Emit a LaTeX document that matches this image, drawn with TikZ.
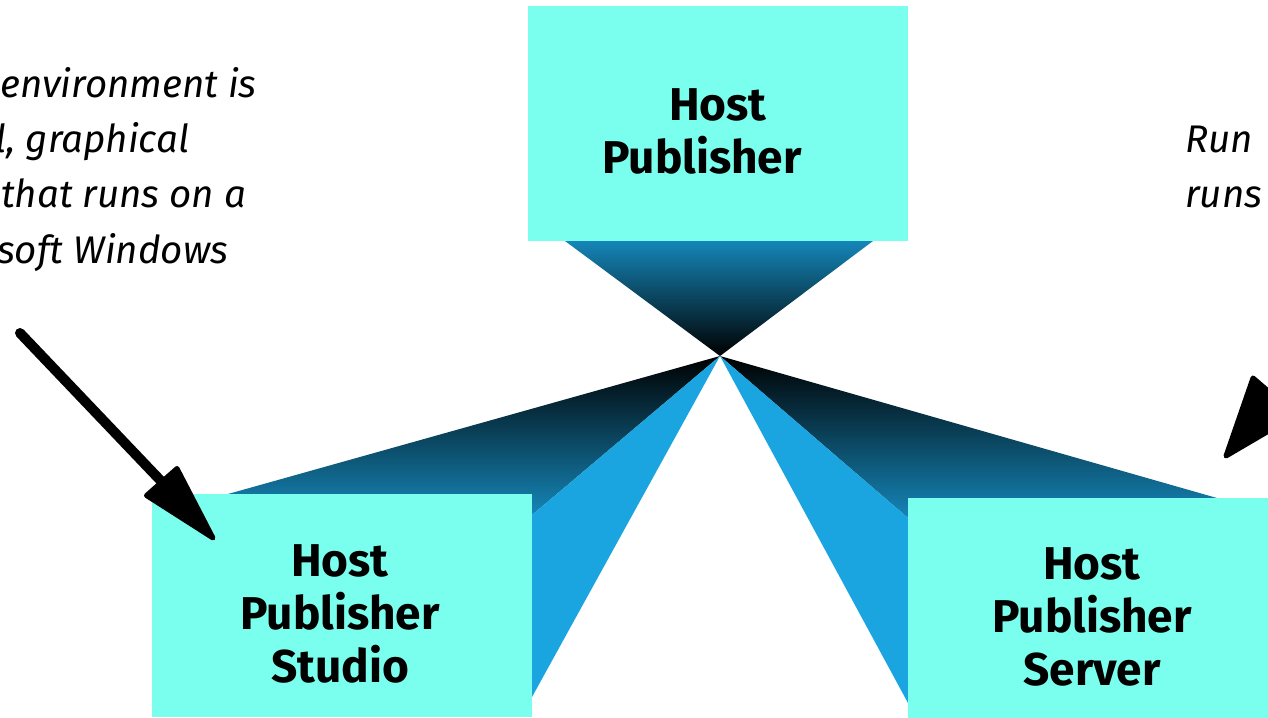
\documentclass[tikz,border=0pt]{standalone}
\usepackage{fontspec}
\newfontfamily\boxfont{Fira Sans}
\newfontfamily\notefont{Fira Sans}
\definecolor{boxcyan}{HTML}{7AFFEE}
\definecolor{wedgeblue}{HTML}{1586B8}
\definecolor{lightblue}{HTML}{1BA5E0}
\begin{document}
\begin{tikzpicture}[x=1pt,y=-1pt,
  box/.style={fill=boxcyan, draw=none, inner sep=0pt, minimum width=380pt},
  lbl/.style={font=\boxfont\bfseries\fontsize{46}{53}\selectfont, align=center, inner sep=0pt},
  notel/.style={font=\notefont\itshape\fontsize{38.5}{55}\selectfont, anchor=base west, inner sep=0pt},
  noter/.style={font=\notefont\itshape\fontsize{38.5}{55}\selectfont, anchor=base west, inner sep=0pt},
  darkwedge/.style={top color=black, bottom color=wedgeblue},
  lightwedge/.style={fill=lightblue},
  shaft/.style={line width=10pt, line cap=round},
  head/.style={fill=black, draw=black, line width=5pt, line join=round}]
\useasboundingbox (0,0) rectangle (1268,717);
\clip (0,0) rectangle (1268,717);
\coordinate (hub) at (720,356);
% wedges
\shade[top color=wedgeblue, bottom color=black] (565,241) -- (873,241) -- (hub) -- cycle;
\shade[darkwedge] (hub) -- (228,494) -- (532,494) -- (532,515) -- cycle;
\fill[lightwedge] (hub) -- (532,515) -- (532,697) -- cycle;
\shade[darkwedge] (hub) -- (1217,498) -- (908,498) -- (908,518) -- cycle;
\fill[lightwedge] (hub) -- (908,518) -- (908,703) -- cycle;
% boxes
\node[box, minimum height=235pt] (topbox) at (718,123.5) {};
\node[box, minimum height=223pt] (leftbox) at (342,605.5) {};
\node[box, minimum height=223pt, minimum width=366pt] (rightbox) at (1091,609.5) {};
\node[lbl] (toptext) at (702,131) {\hspace*{32pt}Host\\Publisher};
\node[lbl] (lefttext) at (340,614) {Host\\Publisher\\Studio};
\node[lbl] (righttext) at (1092,617) {Host\\Publisher\\Server};
% notes
\node[notel] (l1) at (0,97) {environment is};
\node[notel] (l2) at (-5,152) {l, graphical};
\node[notel] (l3) at (1,207) {that runs on a};
\node[notel] (l4) at (-3,263) {soft Windows};
\node[noter] (r1) at (1185,152) {Run};
\node[noter] (r2) at (1185,207) {runs};
% arrows
\coordinate (a1s) at (20,333);
\coordinate (a1b) at (161,481);
\draw[shaft] (a1s) -- (a1b);
\draw[head] (146.5,495.5) -- (213,538) -- (177,468.5) -- cycle;
\coordinate (a2s) at (1378,268);
\coordinate (a2b) at (1275.5,395.5);
\draw[shaft] (a2s) -- (a2b);
\draw[head] (1253,378) -- (1226,456) -- (1296,415) -- cycle;
\end{tikzpicture}
\end{document}
